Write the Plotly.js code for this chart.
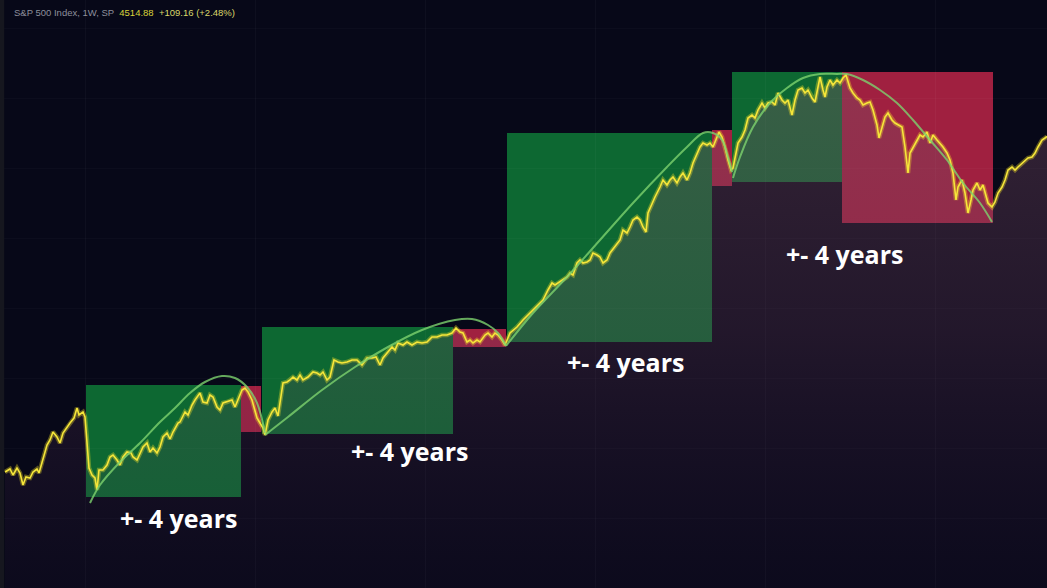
<!DOCTYPE html>
<html>
<head>
<meta charset="utf-8">
<script src="https://cdn.plot.ly/plotly-3.0.1.min.js"></script>
<style>
  html, body { margin: 0; padding: 0; background: #070818; }
  #chart { width: 1047px; height: 588px; }
</style>
</head>
<body>
<div id="chart"></div>
<script>
// ---- Data (weekly bar index, S&P 500 level) ----
const weeks = [5,10,13,17,20,23,26,30,33,37,39,43,47,50,53,57,60,63,67,70,74,77,79,83,85,87,89,92,95,97,99,103,107,110,113,117,120,123,127,131,133,137,140,143,147,150,153,157,160,163,167,170,173,178,180,185,188,192,195,200,203,207,210,213,217,220,223,227,232,235,238,242,245,248,252,255,257,260,263,265,268,272,275,278,281,283,287,290,293,297,300,303,308,313,317,320,323,327,330,334,338,342,347,352,357,362,367,372,376,380,383,388,392,395,398,403,407,412,417,422,427,432,437,442,447,452,456,460,463,467,470,473,477,480,485,488,492,495,498,502,505,510,517,523,530,537,543,548,552,555,558,563,567,570,573,577,580,583,587,590,593,597,600,603,607,610,615,620,623,627,630,633,637,640,643,646,648,652,655,660,663,667,670,673,677,680,683,687,690,693,697,700,703,707,710,713,717,719,722,725,728,731,733,735,738,742,745,748,752,755,758,762,765,768,772,775,778,782,785,788,792,795,798,802,805,808,812,815,818,820,823,825,827,830,833,837,840,843,846,850,853,857,860,863,867,870,873,877,879,882,885,888,892,895,898,902,905,908,910,913,917,920,923,927,930,933,937,940,943,947,950,953,956,958,962,965,968,971,973,977,980,983,985,988,992,995,998,1002,1005,1008,1012,1015,1018,1022,1025,1028,1032,1035,1038,1042,1045,1047];
const price = [1160,1190,1130,1200,1150,1030,1110,1100,1160,1190,1150,1300,1430,1480,1560,1510,1450,1550,1610,1650,1700,1800,1730,1760,1710,1480,1200,1130,1100,980,1180,1180,1230,1310,1330,1280,1230,1310,1360,1350,1310,1280,1350,1410,1450,1360,1400,1350,1410,1510,1550,1490,1560,1650,1660,1760,1730,1830,1880,1950,1860,1850,1930,1910,1810,1780,1850,1860,1880,1810,1880,1980,2000,1960,1880,1760,1700,1650,1600,1530,1680,1760,1800,1720,1910,2050,2060,2080,2110,2080,2130,2080,2110,2160,2150,2130,2160,2080,2110,2280,2260,2250,2260,2280,2280,2230,2300,2300,2310,2230,2300,2360,2410,2380,2450,2430,2460,2430,2460,2450,2460,2510,2510,2530,2530,2550,2600,2560,2550,2460,2480,2450,2480,2460,2530,2550,2510,2550,2530,2480,2430,2550,2610,2680,2750,2810,2880,2980,3050,3030,3050,3080,3110,3150,3130,3250,3280,3250,3260,3280,3350,3330,3310,3250,3280,3350,3410,3480,3580,3550,3610,3680,3710,3680,3610,3560,3750,3850,3910,4010,4080,4030,4080,4110,4050,4110,4150,4080,4150,4250,4350,4410,4450,4430,4450,4410,4510,4560,4510,4410,4280,4180,4200,4300,4450,4510,4580,4700,4730,4700,4780,4850,4800,4850,4860,4830,4950,4880,4850,4880,4730,4880,4980,5000,4950,4980,4900,4860,5030,5110,4980,4910,5010,5080,5030,5080,5050,5100,5130,5000,4950,4900,4880,4830,4850,4860,4780,4630,4500,4610,4710,4750,4680,4650,4630,4610,4410,4150,4350,4400,4480,4530,4510,4560,4450,4530,4480,4450,4410,4350,4280,4150,3880,4010,4080,3950,3750,3880,3980,4050,3980,4030,3950,3850,3810,3860,3950,4010,4080,4180,4210,4180,4210,4250,4280,4300,4310,4350,4410,4480,4500,4515];

// Cycle boxes (start week, end week, low, high, phase)
const boxStart = [86, 241, 262, 453, 507, 712, 732, 842];
const boxEnd   = [241, 261, 453, 506, 712, 732, 842, 993];
const boxLow   = [910, 1560, 1540, 2410, 2460, 4020, 4060, 3650];
const boxHigh  = [2030, 2020, 2610, 2590, 4550, 4580, 5160, 5160];
const boxPhase = ['up', 'down', 'up', 'down', 'up', 'down', 'up', 'down'];

// Cycle arcs (control points)
const arc1Weeks = [90,100,120,140,160,175,190,205,222,235,247,257,265];
const arc1Price = [850,1030,1260,1450,1660,1800,1950,2060,2120,2100,2010,1850,1550];
const arc2Weeks = [265,288,322,355,388,422,455,472,488,498,506];
const arc2Price = [1530,1710,1980,2210,2410,2580,2680,2690,2630,2550,2420];
const arc3Weeks = [506,533,567,600,633,667,687,703,713,722,728,732];
const arc3Price = [2420,2750,3110,3480,3850,4210,4410,4550,4550,4480,4310,4160];
const arc4Weeks = [733,740,753,770,787,803,820,837,847,863,880,897,913,930,947,963,980,992];
const arc4Price = [4100,4310,4610,4850,5000,5100,5140,5140,5140,5080,4980,4850,4680,4480,4280,4050,3850,3660];

// Labels
const labelText = ['+- 4 years', '+- 4 years', '+- 4 years', '+- 4 years'];
const labelWeek = [179, 410, 626, 845];
const labelPrice = [700, 1370, 2260, 3340];

const headerName = 'S&P 500 Index, 1W, SP';
const headerLast = '4514.88';
const headerChange = '+109.16 (+2.48%)';

// ---- Styling ----
const phaseColor = { up: 'rgb(13,104,50)', down: 'rgb(160,32,64)' };
const arcStyle = { color: 'rgba(125,210,110,0.8)', width: 2, shape: 'spline', smoothing: 1 };

const shapes = boxStart.map((s, i) => ({
  type: 'rect', xref: 'x', yref: 'y', layer: 'below',
  x0: s, x1: boxEnd[i], y0: boxLow[i], y1: boxHigh[i],
  fillcolor: phaseColor[boxPhase[i]], line: { width: 0 }
}));
shapes.push({
  type: 'rect', xref: 'paper', yref: 'paper', layer: 'above',
  x0: 0, x1: 0.004, y0: 0, y1: 1, fillcolor: '#16171f', line: { width: 0 }
});

const traces = [
  {
    x: weeks, y: price, type: 'scatter', mode: 'lines',
    line: { width: 0, color: 'rgba(0,0,0,0)' },
    fill: 'tozeroy',
    fillgradient: {
      type: 'vertical', start: 0, stop: 5200,
      colorscale: [[0, 'rgba(70,35,80,0.08)'], [0.5, 'rgba(110,65,95,0.27)'], [1, 'rgba(125,80,100,0.40)']]
    },
    hoverinfo: 'skip'
  },
  {
    x: weeks, y: price, type: 'scatter', mode: 'lines',
    line: { color: 'rgba(245,225,40,0.35)', width: 4.5 }, hoverinfo: 'skip'
  },
  {
    x: weeks, y: price, type: 'scatter', mode: 'lines',
    line: { color: '#f6e63a', width: 1.6 }, hoverinfo: 'skip'
  },
  { x: arc1Weeks, y: arc1Price, type: 'scatter', mode: 'lines', line: arcStyle, hoverinfo: 'skip' },
  { x: arc2Weeks, y: arc2Price, type: 'scatter', mode: 'lines', line: arcStyle, hoverinfo: 'skip' },
  { x: arc3Weeks, y: arc3Price, type: 'scatter', mode: 'lines', line: arcStyle, hoverinfo: 'skip' },
  { x: arc4Weeks, y: arc4Price, type: 'scatter', mode: 'lines', line: arcStyle, hoverinfo: 'skip' }
];

const annotations = labelText.map((t, i) => ({
  x: labelWeek[i], y: labelPrice[i], xref: 'x', yref: 'y',
  text: '<b>' + t + '</b>', showarrow: false,
  xanchor: 'center', yanchor: 'middle',
  font: { family: 'Open Sans, Inter, sans-serif', size: 25, color: '#ffffff' }
}));
annotations.push({
  xref: 'paper', yref: 'paper', x: 0.011, y: 0.979, xanchor: 'left', yanchor: 'middle',
  showarrow: false, align: 'left',
  text: '<span style="color:#8d8f9c">' + headerName + '</span>  ' +
        '<span style="color:#d8d33a">' + headerLast + '</span>  ' +
        '<span style="color:#d9d76a">' + headerChange + '</span>',
  font: { family: 'Liberation Sans, Arial, sans-serif', size: 9.5, color: '#8d8f9c' }
});

const layout = {
  width: 1047, height: 588,
  margin: { l: 0, r: 0, t: 0, b: 0 },
  paper_bgcolor: '#070818', plot_bgcolor: '#070818',
  showlegend: false,
  xaxis: {
    range: [0, 1047], showticklabels: false, zeroline: false,
    showgrid: true, gridcolor: 'rgba(255,255,255,0.03)', tick0: 85, dtick: 170,
    fixedrange: true
  },
  yaxis: {
    range: [0, 5880], showticklabels: false, zeroline: false,
    showgrid: true, gridcolor: 'rgba(255,255,255,0.025)', tick0: 0, dtick: 700,
    fixedrange: true
  },
  shapes: shapes,
  annotations: annotations
};

Plotly.newPlot('chart', traces, layout, { staticPlot: true, displayModeBar: false });
</script>
</body>
</html>
